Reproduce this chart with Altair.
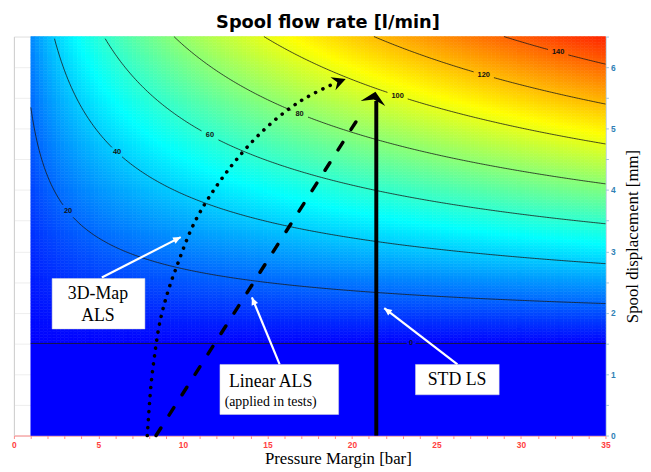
import altair as alt
import numpy as np
import pandas as pd

# ---------------- axes ----------------
X_DOMAIN = [0, 35]
Y_DOMAIN = [0, 6.5]
x_tick_values = list(range(0, 36))
y_tick_values = [i * 0.5 for i in range(14)]

# ---------------- flow map: Q = K * (s - s0) * sqrt(dp) ----------------
K_FLOW = 5.2          # l/min per (mm * sqrt(bar))
S_OVERLAP = 1.5       # spool overlap [mm]
P_START = 1.0         # map starts at 1 bar
CELL_P, CELL_S = 0.25, 0.05
grid_pressure = np.round(np.arange(P_START, 35.0, CELL_P), 4)
grid_disp = np.round(np.arange(S_OVERLAP, 6.5, CELL_S), 4)

contour_levels = [20, 40, 60, 80, 100, 120, 140]
contour_label_p = [3.2, 6.1, 11.6, 16.9, 22.7, 27.8, 32.2]
zero_label_p = 23.5

color_domain = [0, 50, 105, 155]
color_range = ["#0000ff", "#00ffff", "#ffff00", "#ff2000"]

# ---------------- annotations (data units) ----------------
dotted_p = [7.89, 8.00, 8.12, 8.30, 8.53, 8.88, 9.29, 9.70, 10.46, 11.34, 11.92,
            12.62, 13.61, 14.96, 16.42, 17.41, 18.58, 19.10]
dotted_s = [0.00, 0.45, 0.89, 1.26, 1.74, 2.14, 2.51, 2.80, 3.38, 3.80, 4.04,
            4.31, 4.65, 5.04, 5.36, 5.53, 5.69, 5.75]
dashed_p = [8.41, 20.51]
dashed_s = [0.0, 5.23]
solid_p = [21.44, 21.44]
solid_s = [0.0, 5.45]

solid_head = {"p": 21.39, "s": 5.60, "angle": 12}
dotted_head = {"p": 19.63, "s": 5.81, "angle": 69}

white_from_p = [5.20, 15.72, 26.24]
white_from_s = [2.574, 1.158, 1.158]
white_to_p = [9.87, 14.08, 21.91]
white_to_s = [3.233, 2.252, 2.075]
white_angle = [63, 337.6, 307.6]

box_p1 = [2.26, 12.19, 23.76]
box_p2 = [7.75, 19.21, 28.71]
box_s1 = [1.737, 0.343, 0.664]
box_s2 = [2.558, 1.158, 1.158]

label_text = ["3D-Map", "ALS", "Linear ALS", "(applied in tests)", "STD LS"]
label_p = [4.97, 4.97, 15.19, 15.19, 26.22]
label_s = [2.30, 1.946, 0.869, 0.547, 0.906]
label_size = [18, 18, 18, 14, 18]

TITLE = "Spool flow rate [l/min]"

W, H = 599, 404
PX_X = W / 35.0
PX_Y = H / 6.5

# ---------------- build tables ----------------
cells = []
for p in grid_pressure:
    for s in grid_disp:
        q = K_FLOW * (s + CELL_S / 2 - S_OVERLAP) * np.sqrt(p + CELL_P / 2)
        cells.append({"p1": p, "p2": min(p + CELL_P, 35.0), "s1": s,
                      "s2": min(s + CELL_S, 6.5), "q": round(float(q), 2)})
cells.append({"p1": P_START, "p2": 35.0, "s1": 0.0, "s2": S_OVERLAP, "q": 0.0})
cells_df = pd.DataFrame(cells)

c_rows = []
lab_rows = []
for c, lp in zip(contour_levels, contour_label_p):
    ls = S_OVERLAP + c / (K_FLOW * np.sqrt(lp))
    lab_rows.append({"p": lp, "s": ls, "t": str(c)})
    half_w = len(str(c)) * 2.3 + 2.5
    half_h = 4.5
    p_top = (c / (K_FLOW * (6.5 - S_OVERLAP))) ** 2
    ps = list(np.arange(P_START, 35.0, 0.1)) + [35.0]
    if p_top > P_START:
        ps.append(p_top)
    ps = sorted(set(round(float(v), 5) for v in ps))
    seg = 0
    for p in ps:
        s = S_OVERLAP + c / (K_FLOW * np.sqrt(p))
        if s > 6.5 + 1e-9:
            continue
        if abs((p - lp) * PX_X) < half_w and abs((s - ls) * PX_Y) < half_h:
            seg = 1
            continue
        c_rows.append({"p": p, "s": s, "key": f"{c}-{seg}"})
# zero line (overlap)
zg = 4.5 / PX_X
for p, k in [(P_START, "0-0"), (zero_label_p - zg, "0-0"), (zero_label_p + zg, "0-1"), (35.0, "0-1")]:
    c_rows.append({"p": p, "s": S_OVERLAP, "key": k})
lab_rows.append({"p": zero_label_p, "s": S_OVERLAP, "t": "0"})
contour_df = pd.DataFrame(c_rows)
clabel_df = pd.DataFrame(lab_rows)

dotted_df = pd.DataFrame({"p": dotted_p, "s": dotted_s})
dashed_df = pd.DataFrame({"p": dashed_p, "s": dashed_s})
solid_df = pd.DataFrame({"p": solid_p, "s": solid_s})
white_lines = []
for i in range(3):
    white_lines.append({"p": white_from_p[i], "s": white_from_s[i], "k": i})
    white_lines.append({"p": white_to_p[i], "s": white_to_s[i], "k": i})
white_df = pd.DataFrame(white_lines)
white_head_df = pd.DataFrame({"p": white_to_p, "s": white_to_s, "a": white_angle})
box_df = pd.DataFrame({"p1": box_p1, "p2": box_p2, "s1": box_s1, "s2": box_s2})
text_df = pd.DataFrame({"t": label_text, "p": label_p, "s": label_s, "fs": label_size})

# ---------------- scales ----------------
xs = alt.Scale(domain=X_DOMAIN, nice=False, zero=False)
ys = alt.Scale(domain=Y_DOMAIN, nice=False, zero=False)
cs = alt.Scale(domain=color_domain, range=color_range, interpolate="rgb")

x_axis = alt.Axis(values=x_tick_values, labelExpr="datum.value % 5 === 0 ? '' + datum.value : ''",
                  domainColor="#ff8a8a", tickColor="#ff8a8a", labelColor="#ff4040",
                  labelFont="Liberation Sans", labelFontWeight="bold", labelFontSize=8.5,
                  tickSize=3, labelPadding=2, labelFlush=False, labelOverlap=False, grid=False,
                  title="Pressure Margin [bar]", titleFont="Liberation Serif", titleFontSize=17,
                  titleFontWeight="normal", titleColor="black", titleX=328, titleY=23,
                  titleAlign="center", titleBaseline="middle")
y_axis_right = alt.Axis(orient="right", values=y_tick_values,
                        labelExpr="datum.value % 1 === 0 ? '' + datum.value : ''",
                        domainColor="#9ec3dc", tickColor="#9ec3dc", labelColor="#2f7fb5",
                        labelFont="Liberation Sans", labelFontWeight="bold", labelFontSize=8.5,
                        tickSize=3, labelPadding=2, labelFlush=False, labelOverlap=False,
                        grid=True, gridColor="#eeeeee",
                        title="Spool displacement [mm]", titleFont="Liberation Serif",
                        titleFontSize=17, titleFontWeight="normal", titleColor="black",
                        titleAngle=270, titleX=27, titleY=H / 2, titleAlign="center",
                        titleBaseline="middle")
y_axis_left = alt.Axis(orient="left", labels=False, ticks=False, grid=False, title=None,
                       domainColor="#cfcfcf")

heat = alt.Chart(cells_df).mark_rect(strokeWidth=0.6).encode(
    x=alt.X("p1:Q", scale=xs, axis=x_axis),
    x2="p2:Q",
    y=alt.Y("s1:Q", scale=ys, axis=y_axis_right),
    y2="s2:Q",
    color=alt.Color("q:Q", scale=cs, legend=None),
    stroke=alt.Stroke("q:Q", scale=cs, legend=None),
)

contours = alt.Chart(contour_df).mark_line(color="#1a1a1a", strokeWidth=0.8).encode(
    x=alt.X("p:Q", scale=xs, axis=None),
    y=alt.Y("s:Q", scale=ys, axis=y_axis_left),
    detail="key:N",
    order="p:Q",
)

clabels = alt.Chart(clabel_df).mark_text(font="Liberation Sans", fontWeight="bold",
                                         fontSize=7.5, color="#111111").encode(
    x=alt.X("p:Q", scale=xs, axis=None),
    y=alt.Y("s:Q", scale=ys, axis=None),
    text="t:N",
)

dotted = alt.Chart(dotted_df).mark_line(color="black", strokeWidth=3.6, strokeDash=[0.1, 8],
                                        strokeCap="round", interpolate="basis").encode(
    x=alt.X("p:Q", scale=xs, axis=None), y=alt.Y("s:Q", scale=ys, axis=None), order="s:Q")
dashed = alt.Chart(dashed_df).mark_line(color="black", strokeWidth=3.5, strokeDash=[9, 15.5],
                                        strokeCap="round").encode(
    x=alt.X("p:Q", scale=xs, axis=None), y=alt.Y("s:Q", scale=ys, axis=None), order="s:Q")
solid = alt.Chart(solid_df).mark_line(color="black", strokeWidth=4).encode(
    x=alt.X("p:Q", scale=xs, axis=None), y=alt.Y("s:Q", scale=ys, axis=None), order="s:Q")

solid_head_l = alt.Chart(pd.DataFrame([solid_head])).mark_point(
    shape="M0,0 L1,0.95 L0,0.62 L-1,0.95 Z", size=650, filled=True, color="black",
    opacity=1, strokeWidth=0).encode(
    x=alt.X("p:Q", scale=xs, axis=None), y=alt.Y("s:Q", scale=ys, axis=None),
    angle=alt.Angle("angle:Q", scale=None))
dotted_head_l = alt.Chart(pd.DataFrame([dotted_head])).mark_point(
    shape="M0,0 L1,1.97 L0,1.3 L-1,1.97 Z", size=196, filled=True, color="black",
    opacity=1, strokeWidth=0).encode(
    x=alt.X("p:Q", scale=xs, axis=None), y=alt.Y("s:Q", scale=ys, axis=None),
    angle=alt.Angle("angle:Q", scale=None))

white = alt.Chart(white_df).mark_line(color="white", strokeWidth=2.2).encode(
    x=alt.X("p:Q", scale=xs, axis=None), y=alt.Y("s:Q", scale=ys, axis=None), detail="k:N")
white_heads = alt.Chart(white_head_df).mark_point(
    shape="M0,0 L1,2.2 L-1,2.2 Z", size=49, filled=True, color="white",
    opacity=1, strokeWidth=0).encode(
    x=alt.X("p:Q", scale=xs, axis=None), y=alt.Y("s:Q", scale=ys, axis=None),
    angle=alt.Angle("a:Q", scale=None))

boxes = alt.Chart(box_df).mark_rect(fill="white", stroke="#d8d8d8", strokeWidth=0.5).encode(
    x=alt.X("p1:Q", scale=xs, axis=None), x2="p2:Q",
    y=alt.Y("s1:Q", scale=ys, axis=None), y2="s2:Q")

texts = alt.Chart(text_df).mark_text(font="Liberation Serif", color="black",
                                     align="center", baseline="middle").encode(
    x=alt.X("p:Q", scale=xs, axis=None), y=alt.Y("s:Q", scale=ys, axis=None),
    text="t:N", size=alt.Size("fs:Q", scale=None))

title_l = alt.Chart(pd.DataFrame({"t": [TITLE]})).mark_text(
    font="DejaVu Sans", fontSize=18, fontWeight="bold", color="black",
    align="center", baseline="alphabetic").encode(
    x=alt.value(318), y=alt.value(-9), text="t:N")

chart = alt.layer(
    heat, contours, clabels, dotted, dashed, solid, solid_head_l, dotted_head_l,
    white, white_heads, boxes, texts, title_l
).resolve_axis(x="independent", y="independent").properties(
    width=W, height=H,
    padding={"left": 6, "top": 26, "right": 38, "bottom": 34},
    autosize=alt.AutoSizeParams(type="none"),
).configure_view(stroke=None).configure(background="white")

chart.save("out.html", embed_options={"renderer": "svg", "actions": False})
